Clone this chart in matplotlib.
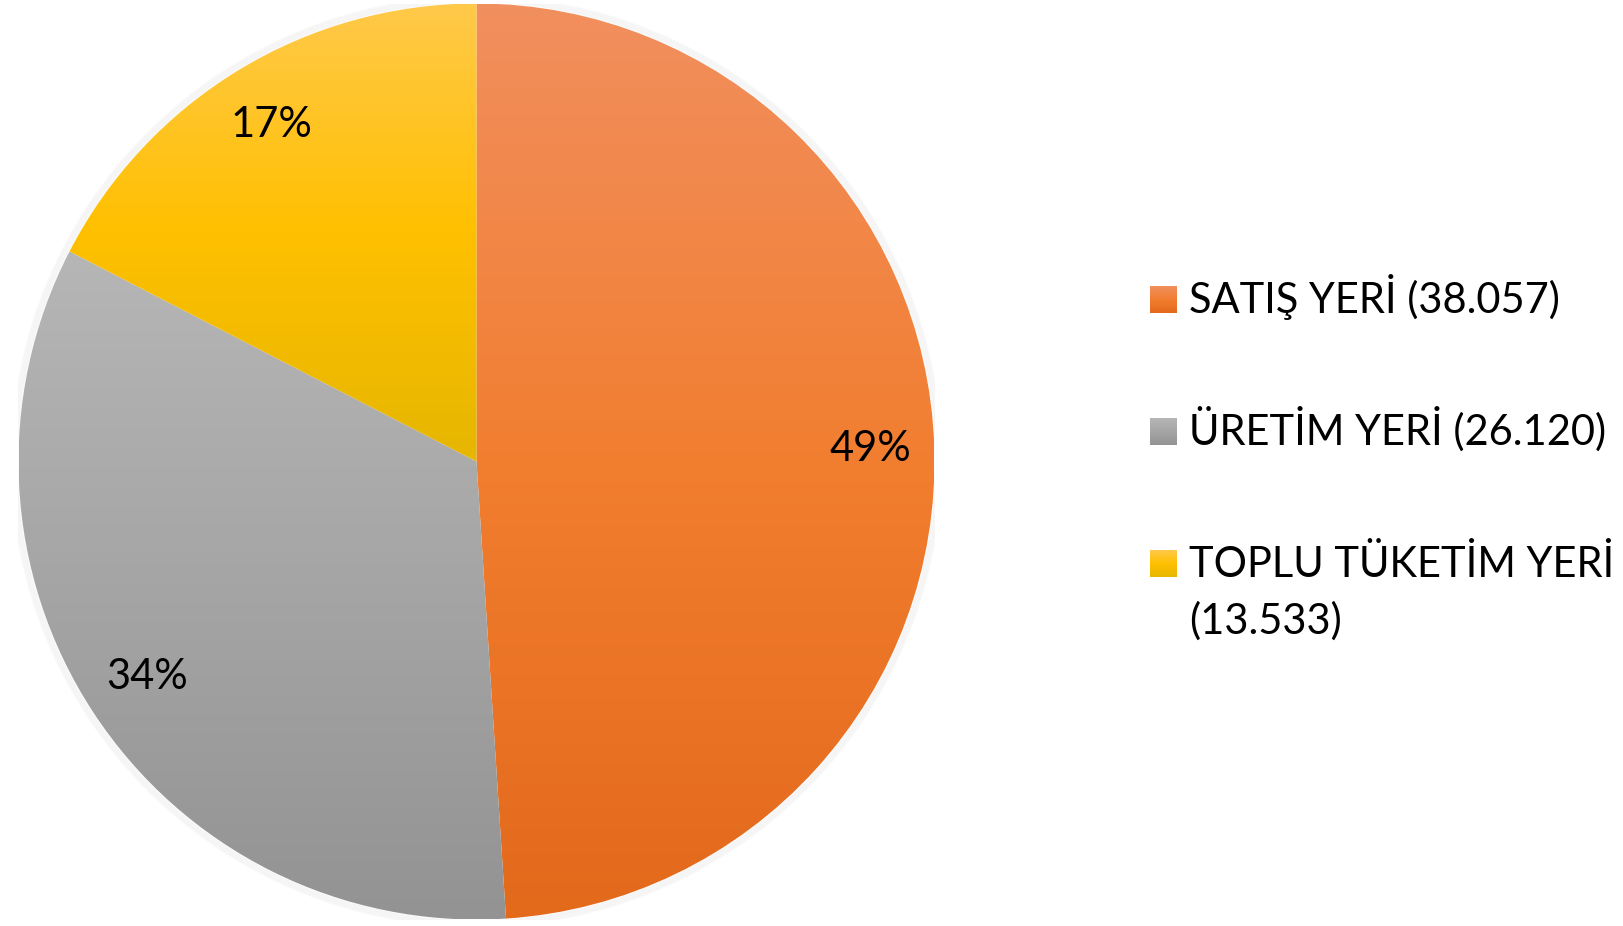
import matplotlib.pyplot as plt
import numpy as np
from matplotlib.colors import LinearSegmentedColormap
from matplotlib.patches import Circle

# Data
categories = ["SATIŞ YERİ", "ÜRETİM YERİ", "TOPLU TÜKETİM YERİ"]
counts = [38057, 26120, 13533]

# Gradient stops for each slice (top, middle, bottom)
gradients = [
    ["#F18F5E", "#F27E30", "#E3691B"],
    ["#B6B6B6", "#A5A5A5", "#939393"],
    ["#FFC94A", "#FFC000", "#E6B600"],
]

W, H = 1624, 926
FONT = "Lato"
FS = 30
plt.rcParams["font.family"] = [FONT, "DejaVu Sans"]


def fmt_count(v):
    return f"{v:,}".replace(",", ".")


def gradient_fill(ax, patch, stops, extent):
    cmap = LinearSegmentedColormap.from_list("grad", stops[::-1])
    grad = np.linspace(0, 1, 256).reshape(-1, 1)
    im = ax.imshow(grad, cmap=cmap, origin="lower", extent=extent,
                   aspect="auto", interpolation="bilinear", zorder=1)
    if patch is not None:
        im.set_clip_path(patch)
    return im


fig = plt.figure(figsize=(W / 100, H / 100), dpi=100)
fig.patch.set_facecolor("white")

# pie axes: center (476.5, 461.5) px, radius 458 px
cx, cy, r = 476.5, 461.5, 458
ax = fig.add_axes([(cx - r) / W, (H - cy - r) / H, 2 * r / W, 2 * r / H])

# faint soft shadow around the pie
for k in range(6):
    ax.add_patch(Circle((0, 0), 1.0 + 0.0025 * (k + 1), facecolor="none",
                        edgecolor="#808080", alpha=0.04, linewidth=1.5, zorder=0))

wedges, texts, autotexts = ax.pie(
    counts, startangle=90, counterclock=False, radius=1,
    autopct=lambda p: f"{p:.0f}%", pctdistance=0.86,
    wedgeprops=dict(linewidth=0),
    textprops=dict(fontsize=FS, color="black", family=[FONT, "DejaVu Sans"]))

for w, stops in zip(wedges, gradients):
    bb = w.get_path().get_extents()
    gradient_fill(ax, w, stops, [bb.x0, bb.x1, bb.y0, bb.y1])
    w.set_facecolor("none")

for t in autotexts:
    t.set_zorder(5)

ax.set_xlim(-1, 1)
ax.set_ylim(-1, 1)
ax.set_aspect("equal")
ax.axis("off")

# legend drawn in pixel coordinates
lax = fig.add_axes([0, 0, 1, 1], zorder=3)
lax.set_facecolor("none")
first_baseline = 313
entry_step = 132
line_step = 57
box = 27
box_x = 1150
text_x = 1189

baseline = first_baseline
for name, value, stops in zip(categories, counts, gradients):
    label = f"{name} ({fmt_count(value)})"
    if len(label) > 22:
        lines = [name, f"({fmt_count(value)})"]
    else:
        lines = [label]
    gradient_fill(lax, None, stops, [box_x, box_x + box, baseline, baseline - box])
    for i, line in enumerate(lines):
        lax.text(text_x, baseline + i * line_step, line, fontsize=FS,
                 va="baseline", ha="left", color="black")
    baseline += entry_step

lax.set_xlim(0, W)
lax.set_ylim(H, 0)
lax.axis("off")

fig.savefig("out.png", dpi=100, facecolor="white")
